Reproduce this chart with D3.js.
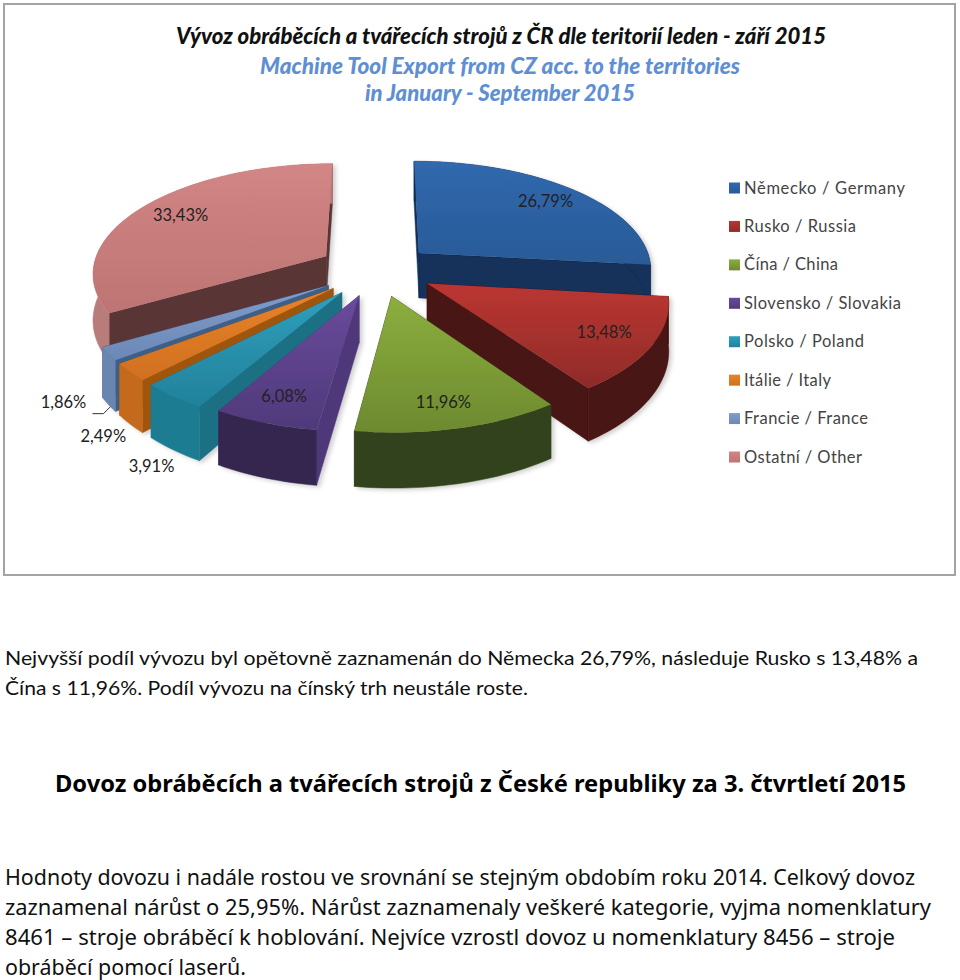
<!DOCTYPE html>
<html><head><meta charset="utf-8">
<script src="https://cdn.jsdelivr.net/npm/d3@7/dist/d3.min.js"></script>
<style>html,body{margin:0;padding:0;background:#fff}svg{display:block}</style>
</head><body><svg id="c" width="960" height="980"></svg>
<script>
const categories = ["Německo / Germany","Rusko / Russia","Čína / China","Slovensko / Slovakia","Polsko / Poland","Itálie / Italy","Francie / France","Ostatní / Other"];
const values = [26.79,13.48,11.96,6.08,3.91,2.49,1.86,33.43];
const valueLabels = ["26,79%","13,48%","11,96%","6,08%","3,91%","2,49%","1,86%","33,43%"];
const topLight = ["#3069ae","#bb3631","#8cae3e","#6a4a9c","#2f9fbd","#e8832a","#7f9ccb","#d28685"];
const topDark  = ["#295a97","#8f2b29","#6d8a2f","#4f3a7a","#22819a","#d0701f","#6c88b6","#bd7473"];
const outerWall= ["#12305a","#4a1212","#33421a","#35264f","#1f7c92","#c36a1b","#6a86b0","#b87b7a"];
const sideWall = ["#12305a","#4a1212","#33421a","#50397a","#1e6f84","#a0540f","#3c5e88","#5a3536"];
const explode  = [.24,.24,.24,.24,.25,.25,.25,.26];
const titleLines = ["Vývoz obráběcích a tvářecích strojů z ČR dle teritorií leden - září 2015","Machine Tool Export from CZ acc. to the territories","in January - September 2015"];
const para1 = ["Nejvyšší podíl vývozu byl opětovně zaznamenán do Německa 26,79%, následuje Rusko s 13,48% a","Čína s 11,96%. Podíl vývozu na čínský trh neustále roste."];
const heading = "Dovoz obráběcích a tvářecích strojů z České republiky za 3. čtvrtletí 2015";
const para2 = ["Hodnoty dovozu i nadále rostou ve srovnání se stejným obdobím roku 2014. Celkový dovoz","zaznamenal nárůst o 25,95%. Nárůst zaznamenaly veškeré kategorie, vyjma nomenklatury","8461 – stroje obráběcí k hoblování. Nejvíce vzrostl dovoz u nomenklatury 8456 – stroje","obráběcí pomocí laserů."];

const svg = d3.select("#c");
svg.append("rect").attr("x",4).attr("y",4).attr("width",951).attr("height",571).attr("fill","#fff").attr("stroke","#a3a3a3").attr("stroke-width",2);
const defs = svg.append("defs");
const f = defs.append("filter").attr("id","sh").attr("x","-10%").attr("y","-10%").attr("width","125%").attr("height","125%");
f.append("feDropShadow").attr("dx",3).attr("dy",2).attr("stdDeviation",2).attr("flood-color","#000").attr("flood-opacity",.18);

const titleSpec=[[501,44,650,"#111"],[500,74,480,"#5f8fd3"],[500,101,270,"#5f8fd3"]];
titleLines.forEach((t,i)=>{const s=titleSpec[i];
 svg.append("text").attr("x",s[0]).attr("y",s[1]).attr("text-anchor","middle").attr("textLength",s[2]).attr("lengthAdjust","spacingAndGlyphs")
 .attr("font-family","Lato").attr("font-weight",900).attr("font-style","italic").attr("font-size",22).attr("fill",s[3]).text(t);});

// perspective pie
const cx=378, cy=270, Rx=234, Ry=109, P=.14, H=46;
const pie=d3.pie().sort(null).value(d=>d).startAngle(0).endAngle(2*Math.PI);
const arcs=pie(values).map((a,i)=>({...a,i,mid:(a.startAngle+a.endAngle)/2}));
function proj(sl,r,th,z){
  const e=explode[sl.i];
  const x=e*Math.sin(sl.mid)+r*Math.sin(th);
  const y=-e*Math.cos(sl.mid)-r*Math.cos(th);
  const s=1/(1-P*y);
  return [cx+Rx*x*s, cy+Ry*y*s+(z?H*s:0)];
}
const line=d3.line();
const g=svg.append("g").attr("filter","url(#sh)");
arcs.slice().sort((a,b)=>(-Math.cos(a.mid))-(-Math.cos(b.mid))).forEach(sl=>{
  const n=Math.max(6,Math.ceil((sl.endAngle-sl.startAngle)*40));
  const ths=d3.range(n+1).map(k=>sl.startAngle+(sl.endAngle-sl.startAngle)*k/n);
  const topRim=ths.map(t=>proj(sl,1,t,false)), botRim=ths.map(t=>proj(sl,1,t,true));
  const a0=proj(sl,0,0,false), a1=proj(sl,0,0,true);
  const gid="tg"+sl.i;
  const lg=defs.append("linearGradient").attr("id",gid).attr("gradientUnits","userSpaceOnUse")
    .attr("x1",0).attr("x2",0).attr("y1",d3.min(topRim.concat([a0]),d=>d[1])).attr("y2",d3.max(topRim.concat([a0]),d=>d[1]));
  lg.append("stop").attr("offset",0).attr("stop-color",topLight[sl.i]);
  lg.append("stop").attr("offset",1).attr("stop-color",topDark[sl.i]);
  const gs=g.append("g");
  const walls=[[a0,topRim[0],botRim[0],a1],[a0,topRim[n],botRim[n],a1]];
  gs.append("path").attr("d",line(walls[0])+"Z").attr("fill",sideWall[sl.i]).attr("stroke",sideWall[sl.i]).attr("stroke-width",.5);
  gs.append("path").attr("d",line(walls[1])+"Z").attr("fill",sideWall[sl.i]).attr("stroke",sideWall[sl.i]).attr("stroke-width",.5);
  gs.append("path").attr("d",line(topRim.concat(botRim.slice().reverse()))+"Z").attr("fill",outerWall[sl.i]).attr("stroke",outerWall[sl.i]).attr("stroke-width",.5);
  gs.append("path").attr("d",line([a0].concat(topRim))+"Z").attr("fill",`url(#${gid})`);
});

// labels
const labelFrac=[.78,.8,.83,.82,1,1,1,.8];
const labelDrop=[0,0,0,0,1,1,1,0];
const labelNudge=[[5,0],[0,0],[-3,0],[0,0],[-22,17],[-27,13],[-45,-2],[3,0]];
arcs.forEach(sl=>{
  const p=proj(sl,labelFrac[sl.i],sl.mid,!!labelDrop[sl.i]);
  const n=labelNudge[sl.i];
  svg.append("text").attr("x",p[0]+n[0]).attr("y",p[1]+n[1]+5).attr("text-anchor","middle").attr("font-family","Lato").attr("font-size",16.5).attr("fill","#222").text(valueLabels[sl.i]);
  if(sl.i===6) svg.append("path").attr("d",line([[p[0]-16,p[1]+9],[p[0]-5,p[1]+9],[p[0]+2,p[1]+2]])).attr("fill","none").attr("stroke","#333").attr("stroke-width",1);
});

// legend
const legY=d3.scalePoint().domain(categories).range([188,457]);
const legW=[161,112,94,157,120,87,124,118];
categories.forEach((c,i)=>{
  const y=legY(c);
  const lg=defs.append("linearGradient").attr("id","lg"+i).attr("x1",0).attr("x2",0).attr("y1",0).attr("y2",1);
  lg.append("stop").attr("offset",0).attr("stop-color",topLight[i]);
  lg.append("stop").attr("offset",1).attr("stop-color",topDark[i]);
  svg.append("rect").attr("x",729).attr("y",y-5.5).attr("width",11).attr("height",11).attr("fill",`url(#lg${i})`);
  svg.append("text").attr("x",744).attr("y",y+5.5).attr("textLength",legW[i]).attr("lengthAdjust","spacing").attr("font-family","Lato").attr("font-size",16.5).attr("fill","#444").text(c);
});

// body text
const ends1=[918,528];
para1.forEach((t,i)=>svg.append("text").attr("x",5).attr("y",[665,695][i]).attr("textLength",ends1[i]-5).attr("lengthAdjust","spacingAndGlyphs").attr("font-family","Lato").attr("font-size",19).attr("fill","#111").text(t));
svg.append("text").attr("x",55).attr("y",792).attr("textLength",851).attr("lengthAdjust","spacingAndGlyphs").attr("font-family","Noto Sans").attr("font-weight",700).attr("font-size",24).attr("fill","#000").text(heading);
const ends2=[915,931,895,246];
para2.forEach((t,i)=>svg.append("text").attr("x",5).attr("y",[885,915,945,975][i]).attr("textLength",ends2[i]-5).attr("lengthAdjust","spacingAndGlyphs").attr("font-family","Noto Sans").attr("font-size",21).attr("fill","#111").text(t));
</script></body></html>
